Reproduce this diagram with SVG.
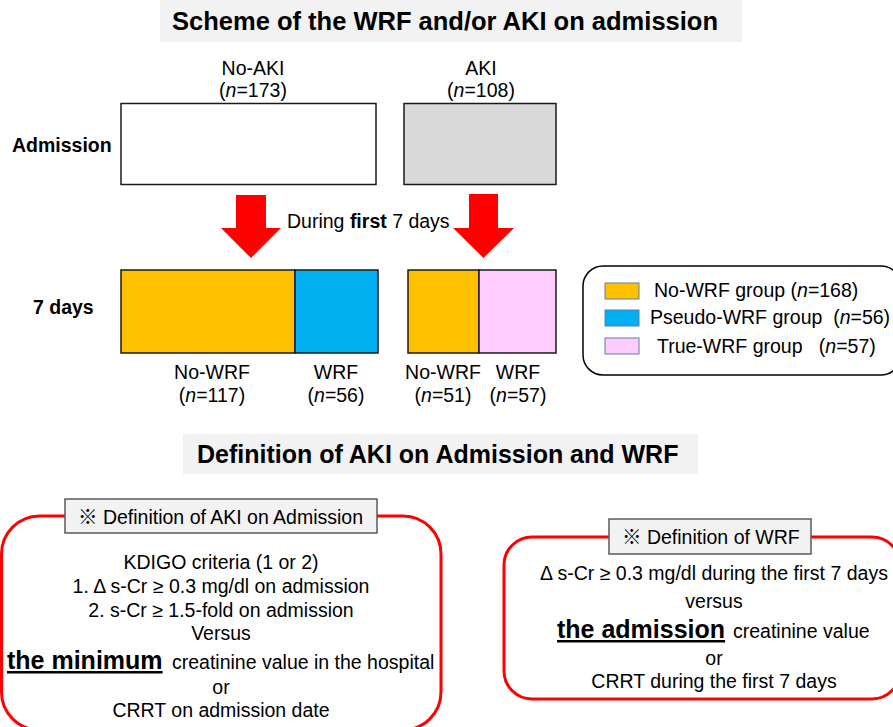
<svg xmlns="http://www.w3.org/2000/svg" width="893" height="727" viewBox="0 0 893 727">
<style>
text{font-family:"Liberation Sans","Noto Sans CJK JP",Arial,sans-serif;fill:#000;}
.t{font-size:25px;font-weight:bold;}
.l{font-size:19.5px;}
.c{text-anchor:middle;}
.b{font-weight:bold;}
.bar{fill:#f2f2f2;}
.box{stroke:#1a1a1a;stroke-width:1.5;}
.sw{stroke:#5b7fa6;stroke-width:1;}
.red{fill:#fff;stroke:#ff0000;stroke-width:3;}
.hdr{fill:#f2f2f2;stroke:#595959;stroke-width:1.5;}
.arrow{fill:#ff0000;}
.big{font-size:25px;font-weight:bold;text-decoration:underline;}
</style>
<rect width="893" height="727" fill="#fff"/>

<g id="title1">
<rect class="bar" x="160" y="0" width="582" height="42"/>
<text class="t" x="172" y="30" textLength="546" lengthAdjust="spacingAndGlyphs">Scheme of the WRF and/or AKI on admission</text>
</g>

<g id="label-admission"><text class="l b" x="12" y="152">Admission</text></g>
<g id="label-7days"><text class="l b" x="33" y="314">7 days</text></g>

<g id="no-aki">
<text class="l c" x="253" y="75">No-AKI</text>
<text class="l c" x="253" y="97">(<tspan font-style="italic">n</tspan>=173)</text>
<rect class="box" x="121" y="103.5" width="255" height="81" fill="#fff"/>
</g>

<g id="aki">
<text class="l c" x="481" y="75">AKI</text>
<text class="l c" x="481" y="97">(<tspan font-style="italic">n</tspan>=108)</text>
<rect class="box" x="404" y="103.5" width="152" height="81" fill="#d9d9d9"/>
</g>

<g id="connectors">
<polygon class="arrow" points="236,195 266,195 266,228 281,228 251,258 221,228 236,228"/>
<polygon class="arrow" points="469,194 498,194 498,228 514,228 483.5,258 453,228 469,228"/>
<text class="l" x="287" y="228">During <tspan class="b">first</tspan> 7 days</text>
</g>

<g id="no-aki-no-wrf">
<rect class="box" x="121" y="270" width="174" height="83" fill="#ffc000"/>
<text class="l c" x="212" y="379">No-WRF</text>
<text class="l c" x="212" y="402">(<tspan font-style="italic">n</tspan>=117)</text>
</g>
<g id="no-aki-wrf">
<rect class="box" x="295" y="270" width="83" height="83" fill="#00b0f0"/>
<text class="l c" x="336" y="379">WRF</text>
<text class="l c" x="336" y="402">(<tspan font-style="italic">n</tspan>=56)</text>
</g>
<g id="aki-no-wrf">
<rect class="box" x="408" y="270" width="71" height="83" fill="#ffc000"/>
<text class="l c" x="443" y="379">No-WRF</text>
<text class="l c" x="443" y="402">(<tspan font-style="italic">n</tspan>=51)</text>
</g>
<g id="aki-wrf">
<rect class="box" x="479" y="270" width="77" height="83" fill="#ffccff"/>
<text class="l c" x="518" y="379">WRF</text>
<text class="l c" x="518" y="402">(<tspan font-style="italic">n</tspan>=57)</text>
</g>

<g id="legend">
<rect x="583" y="266" width="318" height="109" rx="20" fill="#fff" stroke="#000" stroke-width="1.5"/>
<rect class="sw" x="605" y="283" width="34" height="16" fill="#ffc000"/>
<rect class="sw" x="605" y="310" width="34" height="16" fill="#00b0f0"/>
<rect class="sw" x="605" y="338" width="34" height="16" fill="#ffccff"/>
<text class="l" x="654" y="297">No-WRF group (<tspan font-style="italic">n</tspan>=168)</text>
<text class="l" x="650" y="324" xml:space="preserve">Pseudo-WRF group  (<tspan font-style="italic">n</tspan>=56)</text>
<text class="l" x="657" y="353" xml:space="preserve">True-WRF group   (<tspan font-style="italic">n</tspan>=57)</text>
</g>

<g id="title2">
<rect class="bar" x="183" y="434" width="515" height="40"/>
<text class="t" x="197" y="463">Definition of AKI on Admission and WRF</text>
</g>

<g id="def-aki">
<rect class="red" x="1.5" y="516" width="439.5" height="214" rx="38"/>
<rect class="hdr" x="65" y="499" width="312" height="34"/>
<text class="l" x="78" y="524">※ Definition of AKI on Admission</text>
<text class="l c" x="221" y="569">KDIGO criteria (1 or 2)</text>
<text class="l c" x="221" y="593">1. Δ s-Cr ≥ 0.3 mg/dl on admission</text>
<text class="l c" x="221" y="617">2. s-Cr ≥ 1.5-fold on admission</text>
<text class="l c" x="221" y="640">Versus</text>
<text class="big" x="7" y="669">the minimum</text>
<text class="l" x="172" y="669">creatinine value in the hospital</text>
<text class="l c" x="221" y="694">or</text>
<text class="l c" x="221" y="717">CRRT on admission date</text>
</g>

<g id="def-wrf">
<rect class="red" x="504" y="537" width="396" height="162" rx="28"/>
<rect class="hdr" x="609" y="519" width="202" height="35"/>
<text class="l" x="622" y="544">※ Definition of WRF</text>
<text class="l c" x="714" y="580">Δ s-Cr ≥ 0.3 mg/dl during the first 7 days</text>
<text class="l c" x="714" y="608">versus</text>
<text class="big" x="557" y="638">the admission</text>
<text class="l" x="733" y="638">creatinine value</text>
<text class="l c" x="714" y="665">or</text>
<text class="l c" x="714" y="688">CRRT during the first 7 days</text>
</g>
</svg>
